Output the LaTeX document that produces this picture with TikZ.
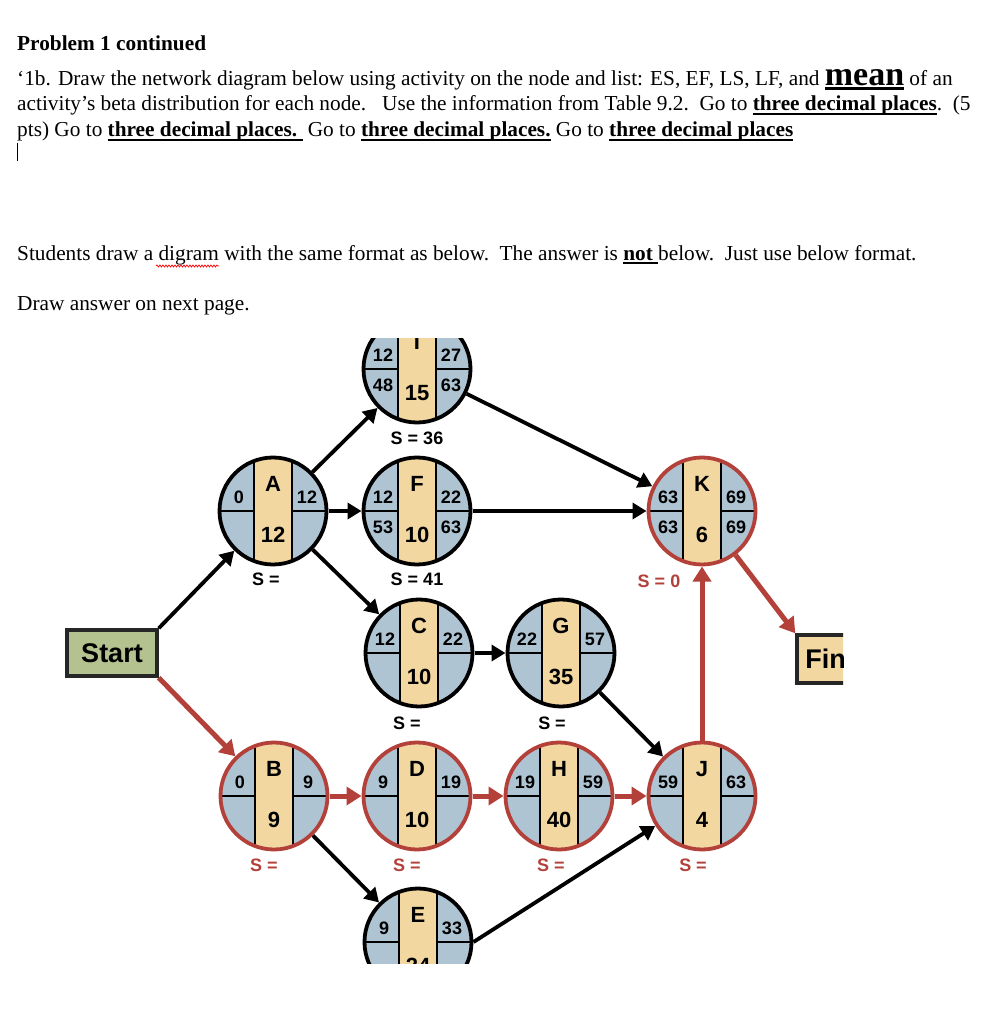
\documentclass[tikz,border=0pt]{standalone}
\usepackage{fontspec}
\setmainfont{Liberation Serif}
\newfontfamily\arial{Liberation Sans}
\usetikzlibrary{arrows.meta,decorations.pathmorphing}
\definecolor{qblue}{HTML}{AFC4D3}
\definecolor{qtan}{HTML}{F2D7A0}
\definecolor{cred}{HTML}{B3413A}
\definecolor{sgreen}{HTML}{B4C28F}
\newsavebox\ulbox
\newcommand\myul[2][1.8pt]{\sbox\ulbox{#2}\rlap{\rule[-4pt]{\wd\ulbox}{#1}}\usebox\ulbox}
\newcommand\actnode[9]{%
  \begin{scope}[shift={(#3)}]
    \node[circle,minimum size=107pt,inner sep=0pt,outer sep=2pt,fill=qblue] (#2) at (0,0) {};
    \begin{scope}
      \clip (0,0) circle (53.5pt);
      \fill[qtan] (-19,-60) rectangle (19,60);
      \draw[line width=2.8pt] (-19,-60) -- (-19,60) (19,-60) -- (19,60) (-60,0) -- (-19,0) (19,0) -- (60,0);
    \end{scope}
    \draw[#1,line width=3.8pt] (0,0) circle (53.5pt);
    \node[lett] (#2-let) at (0,-27) {#4};
    \node[num] (#2-tl) at (-34,-14) {#5};
    \node[num] (#2-tr) at (34,-14) {#6};
    \node[num] (#2-bl) at (-34,16) {#7};
    \node[num] (#2-br) at (34,16) {#8};
    \node[dur] (#2-dur) at (0,24) {#9};
  \end{scope}}
\begin{document}
\begin{tikzpicture}[x=1pt,y=-1pt,
  num/.style={font=\arial\bfseries\fontsize{18}{20}\selectfont,inner sep=0pt},
  dur/.style={font=\arial\bfseries\fontsize{22}{24}\selectfont,inner sep=0pt},
  lett/.style={font=\arial\bfseries\fontsize{22}{24}\selectfont,inner sep=0pt},
  slab/.style={font=\arial\bfseries\fontsize{18}{20}\selectfont,inner sep=0pt},
  txt/.style={anchor=base west,inner sep=0pt,font=\fontsize{21.3}{25}\selectfont},
  blk/.style={draw=black,line width=3.8pt,-{Triangle[length=14pt,width=16pt]}},
  crit/.style={draw=cred,line width=5pt,-{Triangle[length=15pt,width=18pt]}},
  pbox/.style={rectangle,draw=black!85,line width=3.5pt,inner sep=0pt,outer sep=1.75pt,font=\arial\bfseries\fontsize{27}{28}\selectfont}]
\fill[white] (0,0) rectangle (1005,1024);
\useasboundingbox (0,0) rectangle (1005,1024);
% ---- text ----
\node[txt] (t1) at (17,51) {\bfseries Problem 1 continued};
\node[txt] (t2) at (17,86) {‘1b. Draw the network diagram below using activity on the node and list: ES, EF, LS, LF, and {\fontsize{34}{34}\selectfont\bfseries\myul[3pt]{mean}} of an};
\node[txt] (t3) at (17,111) {activity’s beta distribution for each node.\ \ \ Use the information from Table 9.2.\ \ Go to {\bfseries\myul{three decimal places}}.\ \ (5};
\node[txt] (t4) at (17,137) {pts) Go to {\bfseries\myul{three decimal places.\ }}\ Go to {\bfseries\myul{three decimal places.}}\ Go to {\bfseries\myul{three decimal places}}};
\draw[line width=1pt] (17,143) -- (17,161);
\node[txt] (t6) at (17,260) {Students draw a digram with the same format as below.\ \ The answer is {\bfseries\myul{not\ }}below.\ \ Just use below format.};
\draw[red,line width=0.7pt,decorate,decoration={snake,amplitude=1pt,segment length=3pt}] (156,266) -- (219,266);
\node[txt] (t7) at (17,310) {Draw answer on next page.};
% ---- diagram ----
\begin{scope}
\clip (60,338) rectangle (843,963);
\actnode{black}{I}{417,369}{I}{12}{27}{48}{63}{15}
\actnode{black}{A}{273,511}{A}{0}{12}{}{}{12}
\actnode{black}{F}{417,511}{F}{12}{22}{53}{63}{10}
\actnode{cred}{K}{702,511}{K}{63}{69}{63}{69}{6}
\actnode{black}{C}{419,653}{C}{12}{22}{}{}{10}
\actnode{black}{G}{561,653}{G}{22}{57}{}{}{35}
\actnode{cred}{B}{274,796}{B}{0}{9}{}{}{9}
\actnode{cred}{D}{417,796}{D}{9}{19}{}{}{10}
\actnode{cred}{H}{559,796}{H}{19}{59}{}{}{40}
\actnode{cred}{J}{702,796}{J}{59}{63}{}{}{4}
\actnode{black}{E}{418,942}{E}{9}{33}{}{}{24}
\node[pbox,fill=sgreen,minimum width=90pt,minimum height=46pt] (Start) at (112,653) {Start};
\node[pbox,fill=qtan,minimum width=96pt,minimum height=48pt] (Fin) at (845,659) {Finish};
% slack labels
\node[slab] (sI) at (417,438) {S = 36};
\node[slab] (sA) at (266,579) {S =};
\node[slab] (sF) at (417,579) {S = 41};
\node[slab,text=cred] (sK) at (659,581) {S = 0};
\node[slab] (sC) at (407,723) {S =};
\node[slab] (sG) at (552,723) {S =};
\node[slab,text=cred] (sB) at (264,865) {S =};
\node[slab,text=cred] (sD) at (407,865) {S =};
\node[slab,text=cred] (sH) at (551,865) {S =};
\node[slab,text=cred] (sJ) at (693,865) {S =};
% connectors
\draw[blk] (Start.north east) -- (A);
\draw[crit] (Start.south east) -- (B);
\draw[blk] (A) -- (I);
\draw[blk] (A) -- (F);
\draw[blk] (A) -- (C);
\draw[blk] (I) -- (K);
\draw[blk] (F) -- (K);
\draw[blk] (C) -- (G);
\draw[blk] (G) -- (J);
\draw[crit] (B) -- (D);
\draw[blk] (B) -- (E);
\draw[crit] (D) -- (H);
\draw[crit] (H) -- (J);
\draw[blk] (E.east) -- (J);
\draw[crit] (J.north) -- (K.south);
\draw[crit] (K) -- (Fin.north west);
\end{scope}
\end{tikzpicture}
\end{document}
